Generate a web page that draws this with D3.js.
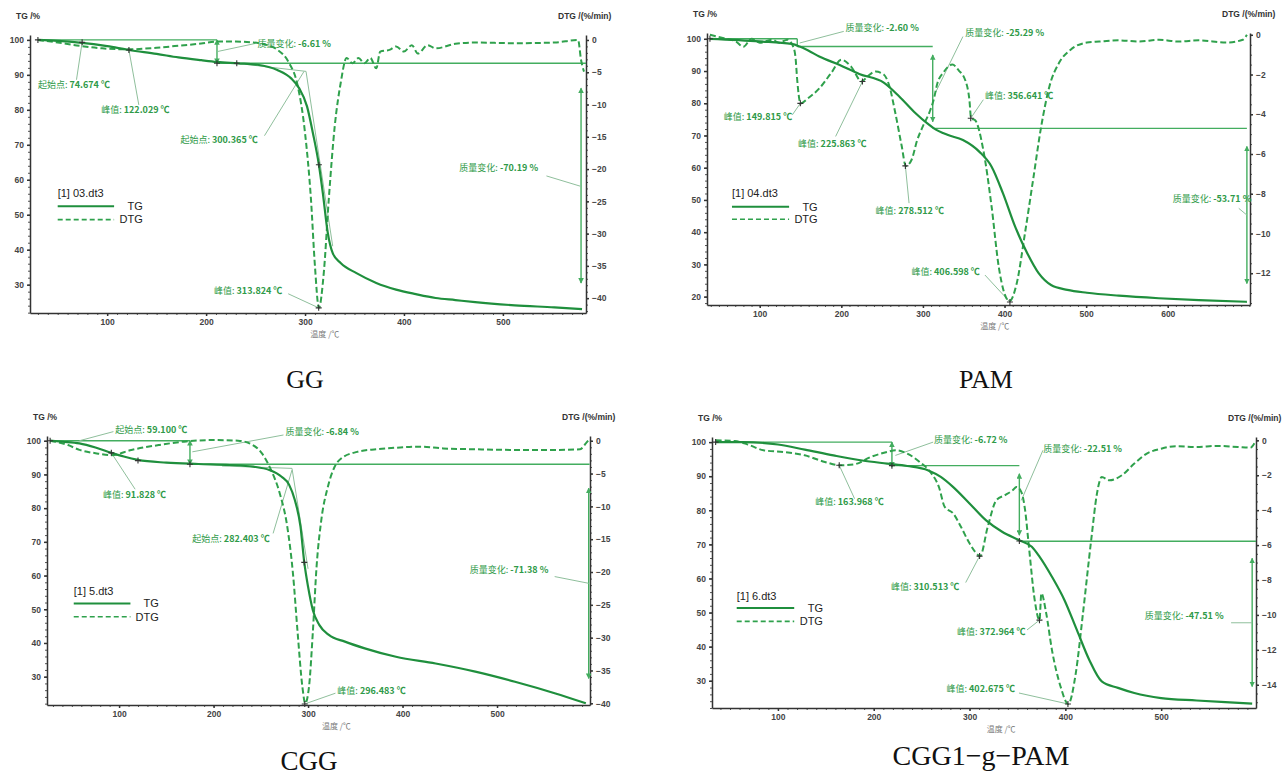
<!DOCTYPE html>
<html>
<head>
<meta charset="utf-8">
<script src="https://cdn.jsdelivr.net/npm/d3@7"></script>
<style>
body { margin: 0; background: #fff; }
svg text { font-family: "Liberation Sans", Arial, sans-serif; }
.ax path, .ax line { stroke: #333; stroke-width: 1.5; }
.ax text { font-size: 8.5px; font-weight: bold; fill: #444; }
.minor path { display: none; }
.minor line { stroke: #555; stroke-width: 1; }
.note { font-family: "Noto Sans CJK SC", sans-serif !important; font-size: 9px; fill: #2f9a48; }
.title { font-family: "Liberation Serif", "DejaVu Serif", serif !important; fill: #111; }
</style>
</head>
<body>
<script>
// temperature (°C) / value pairs
var ggTG = [[30,100],[50,99.7],[72,99.2],[100,98.2],[122,97.1],[150,96.0],[172,95.0],[195,94.2],[211,93.7],[232,93.3],[252,92.9],[272,91.4],[286,89.0],[294,86.2],[302,81.0],[308,73.3],[314,64.3],[318,56.2],[323,44.8],[328,39.0],[336,36.2],[352,33.3],[372,30.5],[392,28.6],[412,27.3],[432,26.2],[452,25.6],[472,25.0],[512,24.1],[552,23.5],[580,23.0]];
var ggDTG = [[30,0],[50,-0.4],[72,-0.9],[95,-1.3],[122,-1.45],[150,-1.2],[172,-0.9],[195,-0.55],[211,-0.25],[230,-0.25],[248,-0.4],[262,-0.8],[272,-1.5],[284,-3.6],[292,-6.7],[300,-14.4],[306,-24.7],[310,-35],[314,-41.5],[319,-36],[324,-24.7],[330,-13.4],[336,-6.7],[342,-2.8],[348,-3.6],[354,-2.8],[360,-3.6],[366,-2.8],[372,-4.4],[376,-1.8],[386,-1.5],[392,-1.0],[400,-1.8],[408,-0.8],[414,-2.1],[424,-0.8],[432,-1.3],[452,-0.6],[472,-0.4],[512,-0.5],[552,-0.4],[576,0],[579,-3.1],[582,-4.9]];

var pamTG = [[39,100],[100,99.2],[139,98.4],[149,97.6],[160,96.3],[173,94.5],[198,91.9],[222,89.1],[252,86.4],[271,82.1],[291,76.9],[305,73.8],[313,72.3],[330,70.2],[349,68.6],[369,65.0],[384,60.4],[398,52.1],[413,41.7],[428,33.4],[442,27.2],[457,23.6],[477,22.1],[501,21.2],[540,20.3],[589,19.5],[638,18.9],[697,18.4]];
var pamDTG = [[39,0],[56,-0.17],[71,-0.34],[80,-0.6],[90,-0.2],[100,-0.4],[115,-0.25],[124,-0.4],[134,-0.25],[142,-0.7],[144,-1.2],[146,-2.3],[150,-3.45],[159,-3.2],[173,-2.7],[188,-1.9],[200,-1.26],[212,-1.6],[225,-2.35],[232,-2.1],[242,-1.85],[252,-2.0],[259,-2.6],[266,-3.9],[274,-5.6],[279,-6.6],[286,-6.3],[293,-5.3],[300,-4.6],[308,-3.9],[313,-3.3],[318,-2.4],[325,-1.9],[336,-1.5],[344,-1.8],[352,-2.3],[357,-3.3],[359,-4.2],[364,-4.3],[374,-5.8],[384,-8.6],[393,-11.7],[406,-13.4],[415,-12.5],[425,-10],[435,-7.3],[445,-4.6],[455,-2.6],[467,-1.4],[481,-0.75],[501,-0.39],[516,-0.34],[540,-0.28],[565,-0.34],[589,-0.25],[614,-0.34],[638,-0.28],[672,-0.39],[692,-0.25],[697,0]];

var cggTG = [[27,100],[40,99.7],[58,99.2],[75,98.0],[92,96.4],[105,95.3],[120,94.3],[150,93.5],[184,93.1],[217,92.8],[242,92.3],[259,91.3],[272,89.3],[280,86.9],[286,82.4],[292,74.5],[296,63.9],[300,56.7],[305,49.8],[312,45.3],[322,42.4],[339,40.4],[360,38.4],[393,35.9],[435,33.9],[477,31.5],[519,28.5],[561,25.1],[594,22.1]];
var cggDTG = [[27,0],[46,-0.66],[58,-1.4],[75,-1.9],[92,-2.2],[113,-1.4],[142,-0.66],[171,-0.1],[200,0.1],[226,0],[238,-0.4],[251,-1.9],[261,-4.5],[270,-8],[278,-13.1],[284,-20.2],[289,-29.3],[294,-37.5],[297,-40],[301,-37.5],[305,-29.3],[309,-19.2],[314,-12.1],[321,-7],[328,-4],[335,-2.7],[352,-1.7],[372,-1.3],[393,-1.07],[418,-0.9],[443,-1.17],[477,-1.3],[519,-1.4],[561,-1.4],[588,-1.3],[594,-0.4],[597,0.1]];

var cpTG = [[35,100],[63,100],[100,99.3],[128,97.8],[158,96.1],[188,94.6],[214,93.7],[235,93.0],[257,91.7],[270,89.8],[283,86.8],[300,82],[317,77.1],[334,73.7],[352,71.2],[365,69.3],[373,66.4],[386,60.5],[399,53.7],[412,44.9],[425,36.1],[438,29.8],[455,27.9],[472,26.4],[500,24.9],[537,24.2],[567,23.7],[595,23.3]];
var cpDTG = [[35,0],[55,-0.04],[68,-0.23],[85,-0.57],[106,-0.67],[128,-0.86],[149,-1.24],[165,-1.43],[180,-1.37],[197,-0.95],[214,-0.67],[223,-0.57],[235,-0.76],[248,-1.24],[259,-1.81],[268,-2.67],[274,-3.8],[283,-4.19],[291,-4.95],[300,-5.9],[309,-6.57],[311,-6.63],[319,-4.95],[328,-3.43],[337,-3.14],[345,-2.86],[349,-2.67],[354,-2.95],[358,-4.0],[362,-6.1],[368,-9.14],[373,-10.3],[375,-8.76],[380,-9.9],[386,-12],[395,-14.1],[403,-15.1],[411,-13.3],[418,-10.1],[427,-5.7],[433,-3.05],[438,-2.1],[446,-2.29],[459,-2.0],[472,-1.33],[485,-0.76],[500,-0.48],[515,-0.34],[537,-0.38],[558,-0.32],[580,-0.38],[593,-0.42],[598,-0.1]];

var titles = ["GG", "PAM", "CGG", "CGG1\u2212g\u2212PAM"];
var files = ["[1] 03.dt3", "[1] 04.dt3", "[1] 5.dt3", "[1] 6.dt3"];
var xTicks = [[100,200,300,400,500], [100,200,300,400,500,600], [100,200,300,400,500], [100,200,300,400,500]];
var tgTicks = [[30,40,50,60,70,80,90,100], [20,30,40,50,60,70,80,90,100], [30,40,50,60,70,80,90,100], [30,40,50,60,70,80,90,100]];
var dtgTicks = [[0,-5,-10,-15,-20,-25,-30,-35,-40], [0,-2,-4,-6,-8,-10,-12], [0,-5,-10,-15,-20,-25,-30,-35,-40], [0,-2,-4,-6,-8,-10,-12,-14]];

// mass-step lines: [from, to, kind] in (°C, TG %)
var ggSteps = [[[30,100],[211,100],"l"],[[211,100],[211,93.3],"a"],[[211,93.3],[584,93.3],"l"],[[579,86.2],[579,30.5],"a"],[[231,93.3],[301,91],"t"],[[301,91],[328,41],"t"]];
var pamSteps = [[[39,100],[146,100],"l"],[[146,100],[146,97.6],"l"],[[146,97.6],[312,97.6],"l"],[[312,95],[312,74.3],"a"],[[312,72.2],[697,72.2],"l"],[[697,66.6],[697,24.1],"a"]];
var cggSteps = [[[27,100],[175,100],"l"],[[175,100],[175,93],"a"],[[175,93],[598,93],"l"],[[597,85.9],[597,29.5],"a"],[[209,92.5],[283,91.8],"t"],[[283,91.8],[300,62],"t"]];
var cpSteps = [[[35,100],[219,100],"l"],[[219,100],[219,92.7],"a"],[[219,93.1],[352,93.1],"l"],[[352,90.7],[352,72.7],"a"],[[352,70.9],[599,70.9],"l"],[[595,65.9],[595,28.3],"a"]];

// annotations: a = point on curve, b = leader end, lab = label anchor ("d" = DTG axis)
var ggNotes = [
  {a:[212,96.7], b:[250,99], lab:[252,99.0], head:"质量变化: ", num:"-6.61 %"},
  {a:[74.7,99.3], b:[69,88.6], lab:[30,87.1], head:"起始点: ", num:"74.674 ℃"},
  {a:[122,97.1], b:[132,81.4], lab:[94,80], head:"峰值: ", num:"122.029 ℃"},
  {a:[299,91], b:[259,72.6], lab:[174,71.4], head:"起始点: ", num:"300.365 ℃"},
  {a:[313.8,-41.5,"d"], b:[283,27.4], lab:[208,28.1], head:"峰值: ", num:"313.824 ℃"},
  {a:[579,58.1], b:[544,61.1], lab:[456,63.3], head:"质量变化: ", num:"-70.19 %"}
];
var pamNotes = [
  {a:[149,98.7], b:[203,102.3], lab:[205,103.3], head:"质量变化: ", num:"-2.60 %"},
  {a:[315,83.1], b:[349,100.7], lab:[352,102], head:"质量变化: ", num:"-25.29 %"},
  {a:[149.8,-3.45,"d"], b:[140,76.4], lab:[56,75.7], head:"峰值: ", num:"149.815 ℃"},
  {a:[225.9,-2.35,"d"], b:[193,69.7], lab:[147,67.4], head:"峰值: ", num:"225.863 ℃"},
  {a:[278.5,-6.6,"d"], b:[283,49], lab:[242,46.7], head:"峰值: ", num:"278.512 ℃"},
  {a:[358.6,-4.2,"d"], b:[374,81.1], lab:[376,82.3], head:"峰值: ", num:"356.641 ℃"},
  {a:[406.6,-13.45,"d"], b:[376,26.7], lab:[286,27.7], head:"峰值: ", num:"406.598 ℃"},
  {a:[697,45.3], b:[687,47.4], lab:[606,50.2], head:"质量变化: ", num:"-53.71 %"}
];
var cggNotes = [
  {a:[58,100], b:[94,102.7], lab:[96,103.2], head:"起始点: ", num:"59.100 ℃"},
  {a:[177.5,96.7], b:[274,101.7], lab:[276,102.5], head:"质量变化: ", num:"-6.84 %"},
  {a:[91.8,96.4], b:[117,85.6], lab:[83,83.9], head:"峰值: ", num:"91.828 ℃"},
  {a:[283,91.3], b:[263,72.5], lab:[177.5,71], head:"起始点: ", num:"282.403 ℃"},
  {a:[296.5,-40.1,"d"], b:[329,25.1], lab:[331,25.8], head:"峰值: ", num:"296.483 ℃"},
  {a:[597,57.7], b:[561,59.7], lab:[471,61.6], head:"质量变化: ", num:"-71.38 %"}
];
var cpNotes = [
  {a:[222.6,96.1], b:[262,100], lab:[263,100.8], head:"质量变化: ", num:"-6.72 %"},
  {a:[354,82.9], b:[376.6,97.6], lab:[377,98], head:"质量变化: ", num:"-22.51 %"},
  {a:[164,-1.43,"d"], b:[180,83.4], lab:[139,82.5], head:"峰值: ", num:"163.968 ℃"},
  {a:[310.5,-6.63,"d"], b:[296,58.8], lab:[218,57.4], head:"峰值: ", num:"310.513 ℃"},
  {a:[373,-10.3,"d"], b:[360,44.9], lab:[287,44.2], head:"峰值: ", num:"372.964 ℃"},
  {a:[402.7,-15.1,"d"], b:[351.6,26.4], lab:[276,27.6], head:"峰值: ", num:"402.675 ℃"},
  {a:[595,47], b:[573,47], lab:[483,49], head:"质量变化: ", num:"-47.51 %"}
];

var ggMarks = [[30,100],[74.7,99.3],[122,97.1],[211,93.3],[231,93.3],[314,64.3],[313.8,-41.5,"d"]];
var pamMarks = [[39,100],[149.8,-3.45,"d"],[225.9,-2.35,"d"],[278.5,-6.6,"d"],[358.6,-4.2,"d"],[406.6,-13.45,"d"]];
var cggMarks = [[27,100],[91.8,96.4],[120,94.1],[175,93],[296,63.9],[296.5,-40.1,"d"]];
var cpMarks = [[35,100],[164,-1.43,"d"],[310.5,-6.63,"d"],[373,-10.3,"d"],[402.7,-15.1,"d"],[352,71],[219,93.1]];

// legend anchors (°C, TG %): title, TG row, DTG row, line end, text end
var legendAt = [
  {title:[50,56.2], tg:52.4, dtg:48.6, l0:50, l1:107, end:136},
  {title:[66,52.1], tg:47.9, dtg:44.0, l0:66, l1:136, end:171},
  {title:[52,55.5], tg:51.7, dtg:47.8, l0:52, l1:112, end:142},
  {title:[57,54.9], tg:51.3, dtg:47.4, l0:57, l1:117, end:147}
];

var tgCol = "#1f8f3d", dtgCol = "#2fa14c", stepCol = "#43ad5f", leadCol = "#8fbf9c";

var panels = [
  {left:30, right:586, top:35, bottom:313, xDom:[22,584], tgDom:[21.9,101.4], dtgDom:[-42.3,0.77], dMinor:1,
   tg:ggTG, dtg:ggDTG, steps:ggSteps, notes:ggNotes, marks:ggMarks, xLab:320, tx:305, ty:388, ts:26},
  {left:707, right:1250, top:33, bottom:305, xDom:[35.4,700.8], tgDom:[17.4,101.8], dtgDom:[-13.6,0.09], dMinor:0.5,
   tg:pamTG, dtg:pamDTG, steps:pamSteps, notes:pamNotes, marks:pamMarks, xLab:388, tx:986, ty:388, ts:26},
  {left:47, right:590, top:436, bottom:705, xDom:[23.7,598.4], tgDom:[21.6,101.4], dtgDom:[-40.26,0.72], dMinor:1,
   tg:cggTG, dtg:cggDTG, steps:cggSteps, notes:cggNotes, marks:cggMarks, xLab:330, tx:309, ty:770, ts:27},
  {left:712, right:1256, top:437, bottom:708, xDom:[31.2,599], tgDom:[22.0,101.5], dtgDom:[-15.33,0.19], dMinor:0.5,
   tg:cpTG, dtg:cpDTG, steps:cpSteps, notes:cpNotes, marks:cpMarks, xLab:333, tx:981, ty:765, ts:28}
];

var svg = d3.select("body").append("svg").attr("width", 1285).attr("height", 776);

svg.append("defs").append("marker")
    .attr("id", "ah").attr("viewBox", "0 0 8 8").attr("refX", 7).attr("refY", 4)
    .attr("markerWidth", 4).attr("markerHeight", 4).attr("orient", "auto-start-reverse")
  .append("path").attr("d", "M0,0L8,4L0,8z").attr("fill", stepCol);

panels.forEach(function(p, i) {
  var x = d3.scaleLinear().domain(p.xDom).range([p.left, p.right]);
  var yT = d3.scaleLinear().domain(p.tgDom).range([p.bottom, p.top]);
  var yD = d3.scaleLinear().domain(p.dtgDom).range([p.bottom, p.top]);
  var pt = function(a) { return [x(a[0]), a[2] == "d" ? yD(a[1]) : yT(a[1])]; };
  var g = svg.append("g");

  // minor ticks
  g.append("g").attr("class", "minor").attr("transform", "translate(0," + p.bottom + ")")
      .call(d3.axisBottom(x).tickValues(d3.range(Math.ceil(p.xDom[0] / 10) * 10, p.xDom[1], 10)).tickSize(2).tickFormat(""));
  g.append("g").attr("class", "minor").attr("transform", "translate(" + p.left + ",0)")
      .call(d3.axisLeft(yT).tickValues(d3.range(Math.ceil(p.tgDom[0] / 2) * 2, p.tgDom[1], 2)).tickSize(2).tickFormat(""));
  g.append("g").attr("class", "minor").attr("transform", "translate(" + p.right + ",0)")
      .call(d3.axisRight(yD).tickValues(d3.range(0, p.dtgDom[0], -p.dMinor)).tickSize(2).tickFormat(""));

  // main axes
  g.append("g").attr("class", "ax").attr("transform", "translate(0," + p.bottom + ")")
      .call(d3.axisBottom(x).tickValues(xTicks[i]).tickSize(3).tickSizeOuter(0).tickFormat(d3.format("d")));
  g.append("g").attr("class", "ax").attr("transform", "translate(" + p.left + ",0)")
      .call(d3.axisLeft(yT).tickValues(tgTicks[i]).tickSize(3).tickSizeOuter(0));
  g.append("g").attr("class", "ax").attr("transform", "translate(" + p.right + ",0)")
      .call(d3.axisRight(yD).tickValues(dtgTicks[i]).tickSize(3).tickSizeOuter(0));

  g.append("text").attr("x", p.left - 14).attr("y", p.top - 16).attr("font-size", 8.5).attr("font-weight", "bold")
      .attr("fill", "#333").text("TG /%");
  g.append("text").attr("x", p.right - 28).attr("y", p.top - 16).attr("font-size", 8.5).attr("font-weight", "bold")
      .attr("fill", "#333").text("DTG /(%/min)");
  g.append("text").attr("x", x(p.xLab)).attr("y", p.bottom + 24).attr("text-anchor", "middle")
      .attr("class", "note").style("fill", "#777").style("font-size", "8px").text("温度 /℃");

  // step lines and tangents
  p.steps.forEach(function(s) {
    var a = pt(s[0]), b = pt(s[1]);
    var ln = g.append("line").attr("x1", a[0]).attr("y1", a[1]).attr("x2", b[0]).attr("y2", b[1])
        .attr("stroke", s[2] == "t" ? leadCol : stepCol).attr("stroke-width", s[2] == "t" ? 1 : 1.4);
    if (s[2] == "a") ln.attr("marker-start", "url(#ah)").attr("marker-end", "url(#ah)");
  });

  // leader lines
  p.notes.forEach(function(n) {
    var a = pt(n.a), b = pt(n.b);
    g.append("line").attr("x1", a[0]).attr("y1", a[1]).attr("x2", b[0]).attr("y2", b[1])
        .attr("stroke", leadCol).attr("stroke-width", 1);
  });

  // curves
  g.append("path").datum(p.dtg)
      .attr("d", d3.line().x(function(d) { return x(d[0]); }).y(function(d) { return yD(d[1]); }).curve(d3.curveMonotoneX))
      .attr("fill", "none").attr("stroke", dtgCol).attr("stroke-width", 2).attr("stroke-dasharray", "6,3");
  g.append("path").datum(p.tg)
      .attr("d", d3.line().x(function(d) { return x(d[0]); }).y(function(d) { return yT(d[1]); }).curve(d3.curveMonotoneX))
      .attr("fill", "none").attr("stroke", tgCol).attr("stroke-width", 2.2);

  p.marks.forEach(function(m) {
    var c = pt(m);
    g.append("path").attr("d", "M" + (c[0] - 3) + "," + c[1] + "h6M" + c[0] + "," + (c[1] - 3) + "v6")
        .attr("stroke", "#333").attr("stroke-width", 1.1);
  });

  p.notes.forEach(function(n) {
    var t = g.append("text").attr("class", "note").attr("x", x(n.lab[0])).attr("y", yT(n.lab[1])).attr("dy", "0.35em");
    t.append("tspan").text(n.head);
    t.append("tspan").attr("font-weight", "bold").text(n.num);
  });

  // legend
  var L = legendAt[i];
  g.append("text").attr("x", x(L.title[0])).attr("y", yT(L.title[1])).attr("dy", "0.35em")
      .attr("font-size", 11).attr("fill", "#222").text(files[i]);
  g.append("line").attr("x1", x(L.l0)).attr("x2", x(L.l1)).attr("y1", yT(L.tg)).attr("y2", yT(L.tg))
      .attr("stroke", tgCol).attr("stroke-width", 2);
  g.append("line").attr("x1", x(L.l0)).attr("x2", x(L.l1)).attr("y1", yT(L.dtg)).attr("y2", yT(L.dtg))
      .attr("stroke", dtgCol).attr("stroke-width", 1.6).attr("stroke-dasharray", "5,3");
  g.append("text").attr("x", x(L.end)).attr("y", yT(L.tg)).attr("dy", "0.35em").attr("text-anchor", "end")
      .attr("font-size", 11).attr("fill", "#222").text("TG");
  g.append("text").attr("x", x(L.end)).attr("y", yT(L.dtg)).attr("dy", "0.35em").attr("text-anchor", "end")
      .attr("font-size", 11).attr("fill", "#222").text("DTG");

  svg.append("text").attr("class", "title").attr("x", p.tx).attr("y", p.ty).attr("text-anchor", "middle")
      .attr("font-size", p.ts).text(titles[i]);
});
</script>
</body>
</html>
